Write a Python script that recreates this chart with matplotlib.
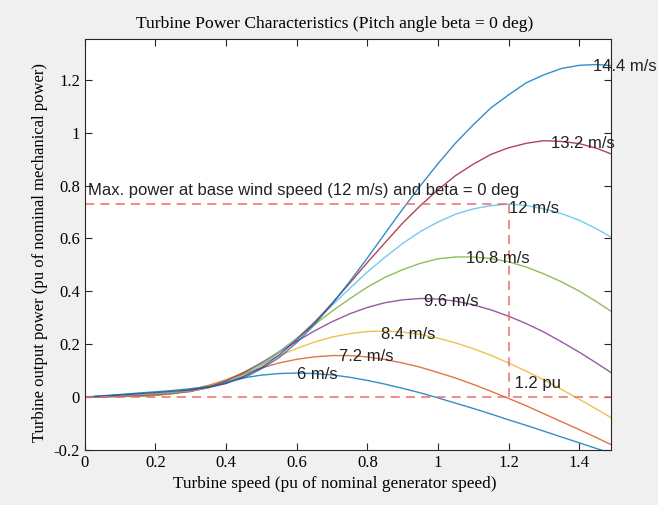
import matplotlib
matplotlib.use("Agg")
import matplotlib.pyplot as plt
from matplotlib.ticker import FuncFormatter

# turbine speed (pu)
omega = [0, 0.05, 0.1, 0.15, 0.2, 0.25, 0.3, 0.35, 0.4, 0.45, 0.5, 0.55, 0.6, 0.65, 0.7, 0.75,
         0.8, 0.85, 0.9, 0.95, 1.0, 1.05, 1.1, 1.15, 1.2, 1.25, 1.3, 1.35, 1.4, 1.45, 1.5]

# output power (pu) per wind speed
p_6 = [0, 0.001, 0.002, 0.003, 0.007, 0.015, 0.028, 0.043, 0.059, 0.073, 0.083, 0.089, 0.091,
       0.089, 0.084, 0.075, 0.063, 0.049, 0.033, 0.016, -0.003, -0.023, -0.043, -0.064, -0.086,
       -0.107, -0.129, -0.151, -0.173, -0.195, -0.216]
p_72 = [0, 0.001, 0.003, 0.004, 0.007, 0.013, 0.026, 0.044, 0.066, 0.089, 0.110, 0.129, 0.143,
        0.152, 0.157, 0.157, 0.152, 0.142, 0.129, 0.113, 0.093, 0.072, 0.048, 0.022, -0.005,
        -0.033, -0.063, -0.093, -0.123, -0.154, -0.186]
p_84 = [0, 0.002, 0.003, 0.005, 0.007, 0.013, 0.023, 0.041, 0.065, 0.094, 0.125, 0.156, 0.184,
        0.208, 0.227, 0.240, 0.248, 0.250, 0.246, 0.237, 0.223, 0.205, 0.183, 0.158, 0.129,
        0.098, 0.065, 0.029, -0.008, -0.046, -0.086]
p_96 = [0, 0.002, 0.004, 0.007, 0.009, 0.014, 0.021, 0.037, 0.061, 0.093, 0.130, 0.170, 0.211,
        0.250, 0.285, 0.315, 0.339, 0.357, 0.368, 0.373, 0.371, 0.363, 0.349, 0.330, 0.306,
        0.278, 0.246, 0.209, 0.170, 0.128, 0.084]
p_108 = [0, 0.003, 0.006, 0.009, 0.011, 0.015, 0.023, 0.035, 0.055, 0.087, 0.127, 0.172, 0.222,
         0.274, 0.325, 0.372, 0.416, 0.453, 0.482, 0.506, 0.523, 0.530, 0.530, 0.524, 0.512,
         0.492, 0.466, 0.436, 0.401, 0.360, 0.316]
p_12 = [0, 0.003, 0.007, 0.010, 0.014, 0.018, 0.024, 0.035, 0.054, 0.080, 0.119, 0.168, 0.222,
        0.284, 0.347, 0.411, 0.473, 0.529, 0.581, 0.626, 0.662, 0.692, 0.712, 0.724, 0.730,
        0.725, 0.712, 0.694, 0.669, 0.636, 0.598]
p_132 = [0, 0.004, 0.008, 0.013, 0.017, 0.022, 0.027, 0.037, 0.051, 0.078, 0.111, 0.159, 0.217,
         0.281, 0.355, 0.431, 0.509, 0.584, 0.658, 0.724, 0.784, 0.838, 0.881, 0.918, 0.943,
         0.960, 0.970, 0.967, 0.959, 0.941, 0.915]
p_144 = [0, 0.005, 0.010, 0.015, 0.020, 0.025, 0.032, 0.039, 0.054, 0.072, 0.107, 0.149, 0.206,
         0.274, 0.351, 0.437, 0.526, 0.619, 0.711, 0.799, 0.883, 0.961, 1.030, 1.094, 1.143,
         1.189, 1.219, 1.243, 1.255, 1.258, 1.253]

series = [p_6, p_72, p_84, p_96, p_108, p_12, p_132, p_144]
labels = ["6 m/s", "7.2 m/s", "8.4 m/s", "9.6 m/s", "10.8 m/s", "12 m/s", "13.2 m/s", "14.4 m/s"]
label_x = [0.60, 0.72, 0.84, 0.96, 1.08, 1.20, 1.32, 1.44]
label_y = [0.085, 0.152, 0.236, 0.362, 0.526, 0.715, 0.960, 1.252]

colors = ["#0072bd", "#d95319", "#edb120", "#7e2f8e", "#77ac30", "#4dbeee", "#a2142f", "#0072bd"]

p_max = 0.73
omega_max = 1.2

plt.rcParams['axes.unicode_minus'] = False
fig = plt.figure(figsize=(6.58, 5.05), dpi=100, facecolor="#f0f0f0")
ax = fig.add_axes([0.129, 0.109, 0.7995, 0.814])

for p, c in zip(series, colors):
    ax.plot(omega, p, color=c, lw=1.0, alpha=0.8)

red = "#f06a6a"
ax.plot([0, omega_max], [p_max, p_max], color=red, lw=1.1, dashes=(6, 4))
ax.plot([omega_max, omega_max], [0, p_max], color=red, lw=1.1, dashes=(6, 4))
ax.plot([0, 1.5], [0, 0], color=red, lw=1.1, dashes=(6, 4))

sans = "Liberation Sans"
for lx, ly, t in zip(label_x, label_y, labels):
    ax.text(lx, ly, t, family=sans, fontsize=12, color="#222222", va="center", ha="left")
ax.text(0.01, 0.78, "Max. power at base wind speed (12 m/s) and beta = 0 deg",
        family=sans, fontsize=12, color="#222222", va="center", ha="left")
ax.text(1.205, 0.053, " 1.2 pu", family=sans, fontsize=12, color="#222222", va="center", ha="left")

ax.set_xlim(0, 1.49)
ax.set_ylim(-0.2, 1.355)
ax.set_xticks([0, 0.2, 0.4, 0.6, 0.8, 1.0, 1.2, 1.4])
ax.set_yticks([-0.2, 0, 0.2, 0.4, 0.6, 0.8, 1.0, 1.2])
fmt = FuncFormatter(lambda v, pos: f"{v:g}")
ax.xaxis.set_major_formatter(fmt)
ax.yaxis.set_major_formatter(fmt)
ax.tick_params(direction="in", top=True, right=True, length=5, width=0.8,
               color="#262626", labelsize=12)
for lab in ax.get_xticklabels() + ax.get_yticklabels():
    lab.set_family("Liberation Serif")
for s in ax.spines.values():
    s.set_color("#262626")
    s.set_linewidth(0.8)

ax.set_xlabel("Turbine speed (pu of nominal generator speed)", family="Liberation Serif",
              fontsize=12.4, x=0.475)
ax.set_ylabel("Turbine output power (pu of nominal mechanical power)", family="Liberation Serif",
              fontsize=12, y=0.48)
ax.set_title("Turbine Power Characteristics (Pitch angle beta = 0 deg)", family="Liberation Serif",
             fontsize=12.6, pad=8, x=0.475)

fig.savefig("out.png", dpi=100, facecolor=fig.get_facecolor())
